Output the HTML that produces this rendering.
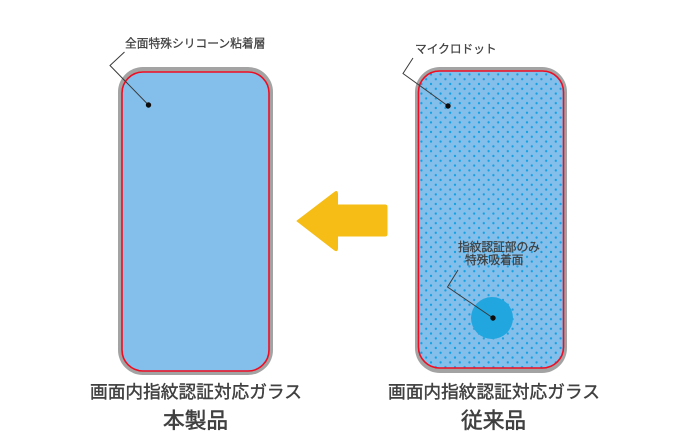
<!DOCTYPE html>
<html lang="ja"><head><meta charset="utf-8"><style>
html,body{margin:0;padding:0;background:#fff}
svg{display:block}
text{font-family:"Liberation Sans","Noto Sans CJK JP",sans-serif;fill:#404040;stroke:#404040}
.s{stroke-width:.25}
.m{stroke-width:.4}
.l{stroke-width:.55}
</style></head><body>
<svg width="700" height="442" viewBox="0 0 700 442" xmlns="http://www.w3.org/2000/svg">
<defs>
<pattern id="d" x="419" y="72" width="9.600" height="9.600" patternUnits="userSpaceOnUse">
<circle cx="2.400" cy="2.400" r="1.150" fill="#12a0e2"/><circle cx="7.200" cy="7.200" r="1.150" fill="#12a0e2"/>
</pattern>
<filter id="b" x="-5%" y="-5%" width="110%" height="110%"><feGaussianBlur stdDeviation="0.3"/></filter>
</defs>
<g filter="url(#b)">
<rect x="118" y="67" width="155" height="308" rx="25" fill="#a3a3a3"/>
<rect x="122" y="72" width="147" height="299" rx="21" fill="#84bfeb" stroke="#f00a20" stroke-width="1.600"/>
<rect x="415" y="67" width="152" height="306" rx="25" fill="#a3a3a3"/>
<rect x="418.500" y="71" width="145" height="297" rx="21" fill="#84bfeb"/>
<rect x="418.500" y="71" width="145" height="297" rx="21" fill="url(#d)"/>
<rect x="418.500" y="71" width="145" height="297" rx="21" fill="none" stroke="#f00a20" stroke-width="1.600"/>
<circle cx="492" cy="318" r="21" fill="#22a6df"/>
<path d="M297 221L335 192Q337.500 190.500 337.500 194V205H385Q387 205 387 207V234Q387 236 385 236H337.500V248Q337.500 252 334.500 250Z" fill="#f5bd14" stroke="#f5bd14" stroke-linejoin="round"/>
<g fill="none" stroke="#3a3a3a" stroke-width="1">
<path d="M124.500 52L110 65.500L148.500 105"/>
<path d="M413 58L403 73.500L448 106"/>
<path d="M458 270L447.500 287L493 318"/>
</g>
<g fill="#111"><circle cx="148.500" cy="105" r="2.700"/><circle cx="448" cy="106" r="2.700"/><circle cx="493" cy="318" r="2.700"/></g>
</g>
<text class="s" x="125" y="47.500" font-size="11.750">全面特殊シリコーン粘着層</text>
<text class="s" x="415" y="53" font-size="11.700">マイクロドット</text>
<text class="s" x="458" y="251" font-size="11.700">指紋認証部のみ</text>
<text class="s" x="465" y="264" font-size="11.700">特殊吸着面</text>
<text class="m" x="90" y="398" font-size="17.700">画面内指紋認証対応ガラス</text>
<text class="m" x="388" y="398" font-size="17.700">画面内指紋認証対応ガラス</text>
<text class="l" x="163" y="428" font-size="21.700">本製品</text>
<text class="l" x="461" y="428" font-size="21.700">従来品</text>
</svg>
</body></html>
